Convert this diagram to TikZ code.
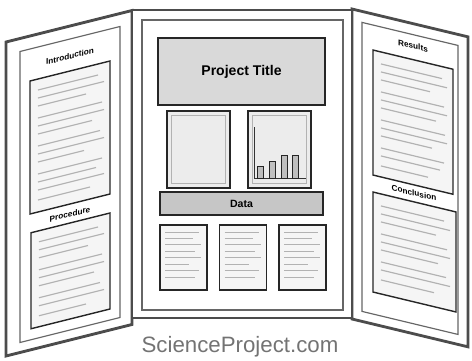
\documentclass[tikz,border=0pt]{standalone}
\usepackage{fontspec}
\setsansfont{Liberation Sans}
\usetikzlibrary{positioning, calc}

\begin{document}
\begin{tikzpicture}[
        x=0.03cm, y=-0.03cm,
        panel/.style={draw=black!70, line width=2.4pt, fill=white},
        frame/.style={draw=black!60, line width=1pt, fill=white},
        titlebox/.style={rectangle, draw=black!85, line width=1.4pt, fill=gray!30, minimum width=5.01cm, minimum height=2.01cm, font=\sffamily\bfseries\large},
        picbox/.style={rectangle, draw=black!85, line width=1.4pt, fill=gray!15, minimum width=1.89cm, minimum height=2.31cm},
        databar/.style={rectangle, draw=black!85, line width=1.4pt, fill=gray!45, minimum width=4.89cm, minimum height=0.69cm, font=\sffamily\bfseries\small},
        textbox/.style={rectangle, draw=black!85, line width=1.2pt, fill=gray!8, minimum width=1.41cm, minimum height=1.95cm},
        sidebox/.style={rectangle, draw=black!85, line width=1.2pt, fill=gray!8, transform shape},
        heading/.style={font=\sffamily\bfseries\fontsize{7}{8}\selectfont, inner sep=0pt, transform shape},
        textline/.style={draw=gray!60, line width=1pt},
        bar/.style={draw=black!85, line width=0.8pt, fill=gray!50}
    ]
    \useasboundingbox (0,0) rectangle (472,360);

    % Left wing
    \begin{scope}[shift={(6,42)}, yslant=0.25]
        \draw[panel] (0,0) rectangle (126,314);
        \draw[frame] (14,13) rectangle (114,304);
        \node[heading] (intro) at (64,30) {Introduction};
        \node[sidebox, minimum width=2.4cm, minimum height=3.99cm] (introtext) at (64,111.5) {};
        \node[heading] (proc) at (64,188) {Procedure};
        \node[sidebox, minimum width=2.37cm, minimum height=2.88cm] (proctext) at (64.5,245) {};
        \foreach \v/\e in {56/92, 64/98, 72/80, 84/96, 92/98, 100/86, 112/94, 120/98, 128/78, 140/96, 148/90, 156/98, 166/84}
            \draw[textline] (32,\v) -- (\e,\v);
        \foreach \v/\e in {208/92, 216/98, 224/82, 236/96, 244/98, 252/88, 264/94, 272/98, 282/80}
            \draw[textline] (33,\v) -- (\e,\v);
    \end{scope}

    % Right wing
    \begin{scope}[shift={(352,9)}, yslant=-0.24]
        \draw[panel] (0,0) rectangle (116,310);
        \draw[frame] (10,11) rectangle (106,300);
        \node[heading] (res) at (61,22) {Results};
        \node[sidebox, minimum width=2.4cm, minimum height=3.75cm] (restext) at (61,98.5) {};
        \node[heading] (concl) at (62,169) {Conclusion};
        \node[sidebox, minimum width=2.49cm, minimum height=3cm] (concltext) at (62.5,228) {};
        \foreach \v/\e in {48/90, 56/95, 64/78, 76/92, 84/95, 92/84, 104/93, 112/95, 120/80, 132/92, 140/88, 150/76}
            \draw[textline] (29,\v) -- (\e,\v);
        \foreach \v/\e in {190/92, 198/98, 206/84, 218/95, 226/98, 234/86, 246/94, 254/98, 264/82}
            \draw[textline] (29,\v) -- (\e,\v);
    \end{scope}

    % Centre panel
    \draw[panel, line width=1.8pt] (132,10) rectangle (352,318);
    \draw[frame] (142,20) rectangle (343,310);
    \node[titlebox] (title) at (241.5,71.5) {Project Title};

    % Pictures
    \node[picbox] (photo) at (198.5,149.5) {};
    \node[picbox] (chart) at (279.5,149.5) {};
    \draw[draw=gray!60, line width=0.8pt] ($(photo.north west)+(5,5)$) rectangle ($(photo.south east)+(-5,-5)$);
    \draw[draw=gray!60, line width=0.8pt] ($(chart.north west)+(5,5)$) rectangle ($(chart.south east)+(-5,-5)$);
    \draw[black!80, line width=0.8pt] ($(chart.north west)+(7,17)$) -- ($(chart.south west)+(7,-10)$) -- ($(chart.south east)+(-6,-10)$);
    \foreach \bx/\by in {257/166, 269/161, 281/155, 292/155}
        \draw[bar] (\bx,\by) rectangle (\bx+6,178);

    % Data
    \node[databar] (data) at (241.5,203.5) {Data};

    % Text blocks
    \node[textbox] (txa) at (183.5,257.5) {};
    \node[textbox, right=0.33cm of txa] (txb) {};
    \node[textbox, right=0.33cm of txb] (txc) {};
    \foreach \b in {txa,txb,txc}
        \foreach \y/\l in {8/34, 14/28, 20/36, 27/30, 33/36, 40/24, 46/34, 53/30}
            \draw[textline, line width=0.8pt] ($(\b.north west)+(6,\y)$) -- ++(\l,0);

    % Caption
    \node[font=\sffamily\fontsize{19}{22}\selectfont, text=black!55] (site) at (240,347) {ScienceProject.com};

\end{tikzpicture}
\end{document}
